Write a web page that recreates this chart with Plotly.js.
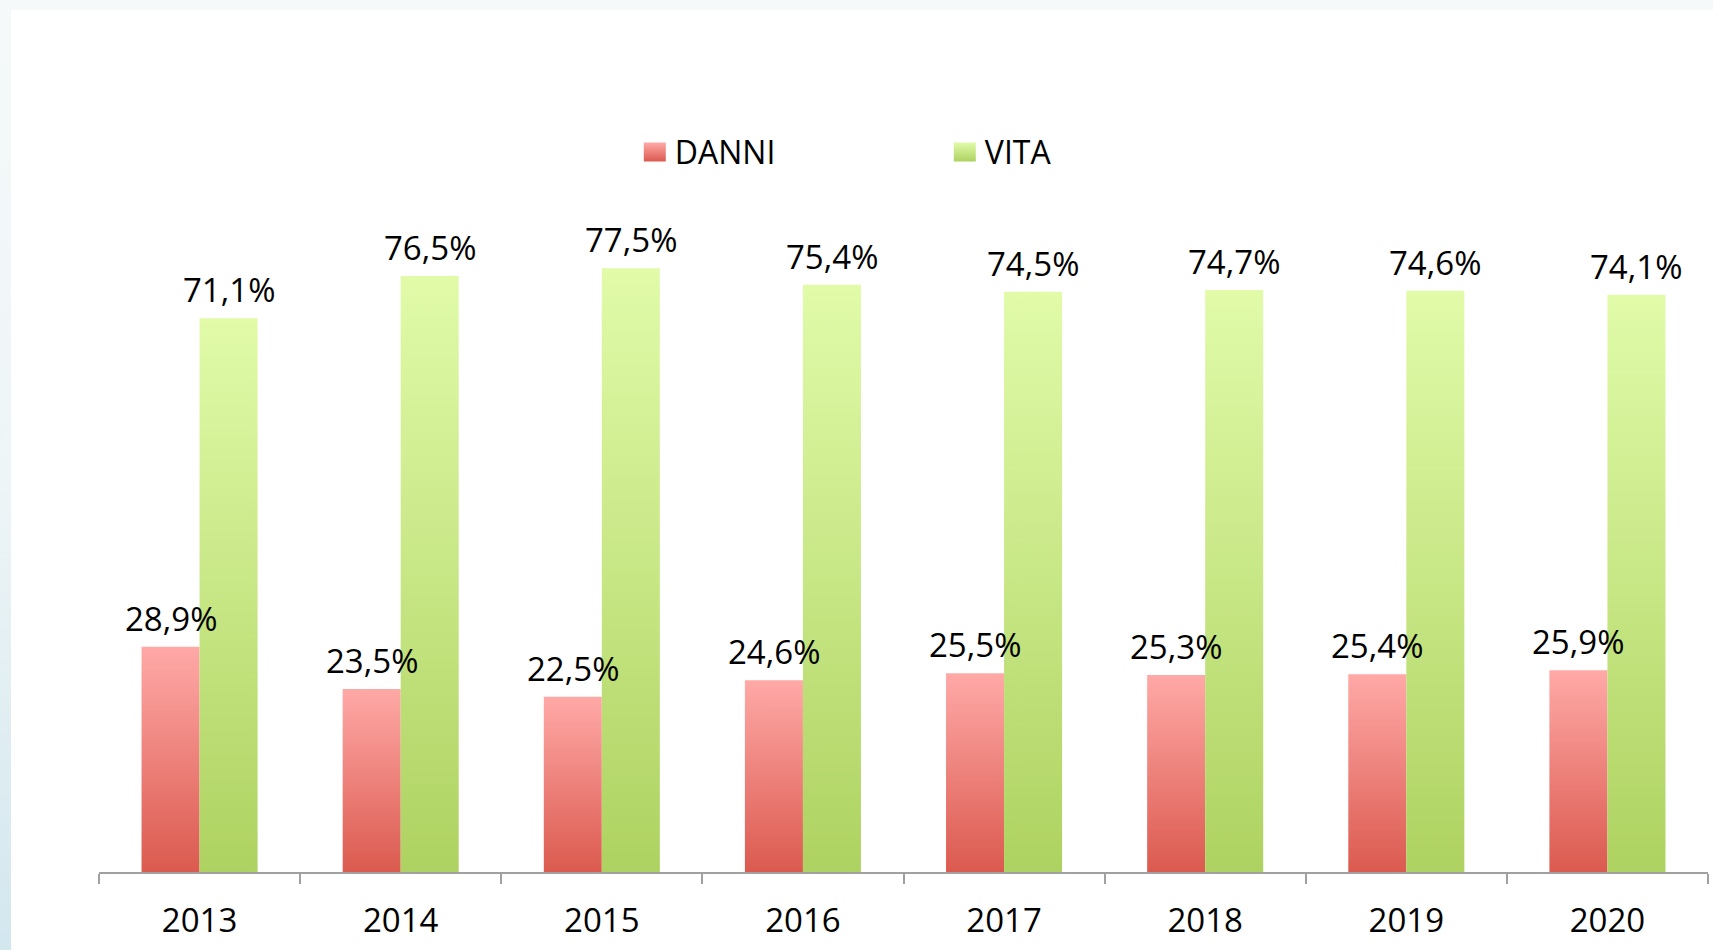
<!DOCTYPE html>
<html>
<head>
<meta charset="utf-8">
<script src="https://cdn.plot.ly/plotly-3.0.1.min.js"></script>
<style>
  html, body { margin: 0; padding: 0; width: 1713px; height: 950px; overflow: hidden; }
  body { background: #F5F9FA; position: relative; }
  #leftstrip { position: absolute; left: 0; top: 0; width: 11px; height: 950px;
    background: linear-gradient(to bottom, #F5F9FA 0%, #EEF5F7 50%, #D3E7EE 100%); }
  #chart { position: absolute; left: 11px; top: 10px; width: 1702px; height: 940px; background: #fff; }
</style>
</head>
<body>
<div id="leftstrip"></div>
<div id="chart"></div>
<script>
const years = ['2013', '2014', '2015', '2016', '2017', '2018', '2019', '2020'];
const danni = [28.9, 23.5, 22.5, 24.6, 25.5, 25.3, 25.4, 25.9];
const vita  = [71.1, 76.5, 77.5, 75.4, 74.5, 74.7, 74.6, 74.1];
const seriesNames = ['DANNI', 'VITA'];

const FONT = '"Open Sans", "Noto Sans", sans-serif';
const BARGAP = 0.423;

function fmt(v) { return v.toFixed(1).replace('.', ',') + '%'; }

const traces = [
  {
    type: 'bar', name: seriesNames[0], x: years, y: danni,
    marker: { color: '#EC7F79', line: { width: 0 } },
    hoverinfo: 'skip'
  },
  {
    type: 'bar', name: seriesNames[1], x: years, y: vita,
    marker: { color: '#C8E785', line: { width: 0 } },
    hoverinfo: 'skip'
  }
];

// each bar is half of the group width; labels sit over each bar's centre
const barHalfCat = (1 - BARGAP) / 4;   // in category units

const annotations = [];
[danni, vita].forEach(function (vals, s) {
  vals.forEach(function (v, i) {
    annotations.push({
      x: i + (s === 0 ? -1 : 1) * barHalfCat, y: v, xref: 'x', yref: 'y',
      text: fmt(v), showarrow: false,
      xanchor: 'center', yanchor: 'bottom', yshift: 4,
      font: { family: FONT, size: 33, color: '#000' }
    });
  });
});

const layout = {
  width: 1702, height: 940,
  margin: { l: 88, r: 5, t: 83, b: 78 },
  paper_bgcolor: '#ffffff', plot_bgcolor: '#ffffff',
  barmode: 'group', bargap: BARGAP, bargroupgap: 0,
  font: { family: FONT, color: '#000' },
  showlegend: true,
  legend: {
    orientation: 'h', x: 0.333, xanchor: 'left', y: 0.924, yanchor: 'middle',
    entrywidth: 265, font: { family: FONT, size: 32, color: '#000' },
    bgcolor: 'rgba(0,0,0,0)', traceorder: 'normal'
  },
  annotations: annotations,
  xaxis: {
    type: 'category', range: [-0.5, 7.5], fixedrange: true,
    showline: true, linecolor: '#A0A0A0', linewidth: 2,
    ticks: 'outside', tickson: 'boundaries', ticklen: 10, tickwidth: 2, tickcolor: '#A0A0A0',
    tickfont: { family: FONT, size: 33, color: '#000' }, ticklabelstandoff: 18,
    showgrid: false, zeroline: false
  },
  yaxis: {
    range: [0, 100], visible: false, showgrid: false, zeroline: false, fixedrange: true
  }
};

Plotly.newPlot('chart', traces, layout, { displayModeBar: false, staticPlot: true }).then(function (gd) {
  const svgNS = 'http://www.w3.org/2000/svg';
  const svg = gd.querySelector('.main-svg');
  let defs = svg.querySelector('defs');
  if (!defs) { defs = document.createElementNS(svgNS, 'defs'); svg.insertBefore(defs, svg.firstChild); }
  function grad(id, top, bottom) {
    const g = document.createElementNS(svgNS, 'linearGradient');
    g.setAttribute('id', id);
    g.setAttribute('x1', '0'); g.setAttribute('y1', '0');
    g.setAttribute('x2', '0'); g.setAttribute('y2', '1');
    [[0, top], [1, bottom]].forEach(function (s) {
      const st = document.createElementNS(svgNS, 'stop');
      st.setAttribute('offset', s[0]);
      st.setAttribute('stop-color', s[1]);
      g.appendChild(st);
    });
    defs.appendChild(g);
  }
  grad('gDanni', '#FFA9A7', '#DB5A4F');
  grad('gVita', '#E1FBA9', '#AED261');
  const ids = ['url(#gDanni)', 'url(#gVita)'];
  gd.querySelectorAll('.barlayer .trace').forEach(function (t, i) {
    t.querySelectorAll('.point path').forEach(function (p) { p.style.fill = ids[i]; });
  });
  gd.querySelectorAll('.legend .traces').forEach(function (t, i) {
    t.querySelectorAll('.legendpoints path').forEach(function (p) {
      p.setAttribute('d', 'M11,9.5H-11V-9.5H11Z');
      p.style.fill = ids[i];
      p.style.stroke = 'none';
    });
  });
});
</script>
</body>
</html>
